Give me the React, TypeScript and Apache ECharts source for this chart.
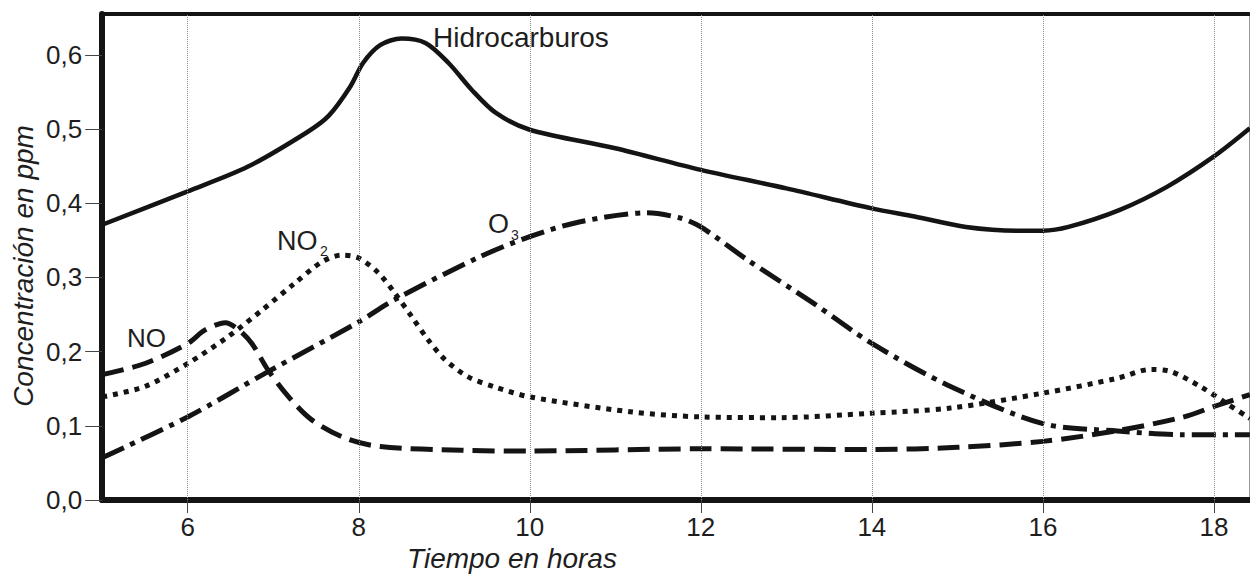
import React, { useEffect, useRef } from "react";
import * as echarts from "echarts";

// ---- data ----
const xTicks = [6, 8, 10, 12, 14, 16, 18];
const yTicks = [0, 0.1, 0.2, 0.3, 0.4, 0.5, 0.6];

const hidroX = [5.0, 6.0, 6.7, 7.4, 7.65, 7.9, 8.05, 8.25, 8.5, 8.78, 9.05, 9.32, 9.6, 10.0, 11.0, 12.0, 13.0, 14.0, 14.5, 15.1, 15.7, 16.0, 16.3, 16.9, 17.45, 18.0, 18.42];
const hidroY = [0.371, 0.416, 0.449, 0.496, 0.518, 0.557, 0.589, 0.613, 0.622, 0.616, 0.589, 0.553, 0.522, 0.499, 0.474, 0.445, 0.42, 0.393, 0.382, 0.368, 0.363, 0.363, 0.368, 0.391, 0.422, 0.463, 0.501];

const noX = [5.0, 5.5, 6.0, 6.2, 6.44, 6.6, 6.75, 6.94, 7.18, 7.45, 7.85, 8.25, 9.2, 10, 12, 14, 15, 16, 16.9, 17.65, 18.0, 18.42];
const noY = [0.169, 0.184, 0.211, 0.229, 0.239, 0.229, 0.211, 0.175, 0.139, 0.108, 0.083, 0.072, 0.067, 0.066, 0.069, 0.068, 0.071, 0.079, 0.094, 0.112, 0.126, 0.142];

const no2X = [5.0, 5.5, 6.0, 6.47, 6.87, 7.25, 7.57, 7.8, 8.0, 8.23, 8.42, 8.62, 8.81, 9.01, 9.28, 9.6, 10, 11.17, 12, 12.93, 14, 14.92, 16, 16.87, 17.26, 17.5, 17.84, 18.15, 18.42];
const no2Y = [0.139, 0.153, 0.184, 0.22, 0.256, 0.292, 0.321, 0.33, 0.326, 0.306, 0.279, 0.247, 0.216, 0.189, 0.166, 0.152, 0.139, 0.119, 0.112, 0.111, 0.117, 0.124, 0.144, 0.164, 0.176, 0.173, 0.153, 0.13, 0.11];

const o3X = [5.0, 6.0, 6.94, 8.0, 8.42, 9.42, 10, 10.59, 11.37, 11.76, 12, 12.54, 13.32, 14, 14.92, 16, 16.87, 17.64, 18.42];
const o3Y = [0.057, 0.112, 0.173, 0.24, 0.27, 0.328, 0.355, 0.375, 0.387, 0.38, 0.368, 0.324, 0.265, 0.211, 0.153, 0.103, 0.093, 0.088, 0.088];

const X_MIN = 5;
const X_MAX = 18.41;
const Y_MIN = 0;
const Y_MAX = 0.655;

const zip = (xs: number[], ys: number[]) => xs.map((x, i) => [x, ys[i]]);

const FONT = '"Liberation Sans", Arial, sans-serif';
const INK = "#141414";
const TEXT = "#1e1e1e";

export default function App() {
  const ref = useRef<HTMLDivElement>(null);

  useEffect(() => {
    if (!ref.current) return;
    const chart = echarts.init(ref.current, null, { renderer: "svg" });

    const lineSeries = (name: string, xs: number[], ys: number[], type: any, width: number) => ({
      name,
      type: "line",
      data: zip(xs, ys),
      smooth: 0.3,
      showSymbol: false,
      symbol: "none",
      z: 3,
      lineStyle: { color: INK, width, type, cap: "butt", join: "round" },
    });

    const option: any = {
      animation: false,
      backgroundColor: "#ffffff",
      grid: { left: 102.2, right: 1, top: 14, bottom: 74, containLabel: false },
      xAxis: [
        {
          type: "value",
          min: X_MIN,
          max: X_MAX,
          position: "bottom",
          axisLine: { show: true, onZero: false, lineStyle: { color: INK, width: 6 } },
          axisTick: { show: true, customValues: xTicks, length: 13, lineStyle: { color: "#444", width: 1 } },
          axisLabel: {
            show: true,
            customValues: xTicks,
            margin: 14,
            fontSize: 26,
            fontFamily: FONT,
            color: TEXT,
            formatter: (v: number) => String(v),
          },
          splitLine: { show: false },
        },
        {
          type: "value",
          min: X_MIN,
          max: X_MAX,
          position: "top",
          axisLine: { show: true, onZero: false, lineStyle: { color: INK, width: 4 } },
          axisTick: { show: false },
          axisLabel: { show: false },
          splitLine: { show: false },
        },
      ],
      yAxis: [
        {
          type: "value",
          min: Y_MIN,
          max: Y_MAX,
          position: "left",
          axisLine: { show: true, onZero: false, lineStyle: { color: INK, width: 6 } },
          axisTick: { show: true, customValues: yTicks, length: 17, lineStyle: { color: "#444", width: 1 } },
          axisLabel: {
            show: true,
            customValues: yTicks,
            margin: 20,
            fontSize: 26,
            fontFamily: FONT,
            color: TEXT,
            formatter: (v: number) => v.toFixed(1).replace(".", ","),
          },
          splitLine: { show: false },
        },
        {
          type: "value",
          min: Y_MIN,
          max: Y_MAX,
          position: "right",
          axisLine: { show: true, onZero: false, lineStyle: { color: "#999", width: 1 } },
          axisTick: { show: false },
          axisLabel: { show: false },
          splitLine: { show: false },
        },
      ],
      series: [
        {
          name: "grid",
          type: "line",
          data: [[X_MIN, -1]],
          showSymbol: false,
          symbol: "none",
          lineStyle: { width: 0, opacity: 0 },
          z: 1,
          silent: true,
          markLine: {
            silent: true,
            symbol: ["none", "none"],
            label: { show: false },
            lineStyle: { type: "dotted", color: "#8a8a8a", width: 1 },
            data: xTicks.map((v) => ({ xAxis: v })),
          },
        },
        lineSeries("Hidrocarburos", hidroX, hidroY, "solid", 4.5),
        lineSeries("NO", noX, noY, [22, 9], 5),
        lineSeries("NO2", no2X, no2Y, [5, 6], 5),
        lineSeries("O3", o3X, o3Y, [24, 7, 5, 7], 5),
      ],
      graphic: [
        {
          type: "text",
          x: 433,
          y: 37,
          style: { text: "Hidrocarburos", fontSize: 28, fontFamily: FONT, fill: TEXT, align: "left", verticalAlign: "middle" },
        },
        {
          type: "text",
          x: 127,
          y: 338,
          style: { text: "NO", fontSize: 26, fontFamily: FONT, fill: TEXT, align: "left", verticalAlign: "middle" },
        },
        {
          type: "text",
          x: 277,
          y: 241,
          style: { text: "NO", fontSize: 27, fontFamily: FONT, fill: TEXT, align: "left", verticalAlign: "middle" },
        },
        {
          type: "text",
          x: 320,
          y: 251,
          style: { text: "2", fontSize: 14, fontFamily: FONT, fill: TEXT, align: "left", verticalAlign: "middle" },
        },
        {
          type: "text",
          x: 488,
          y: 224,
          style: { text: "O", fontSize: 27, fontFamily: FONT, fill: TEXT, align: "left", verticalAlign: "middle" },
        },
        {
          type: "text",
          x: 511,
          y: 235,
          style: { text: "3", fontSize: 14, fontFamily: FONT, fill: TEXT, align: "left", verticalAlign: "middle" },
        },
        {
          type: "text",
          x: 512,
          y: 558,
          style: { text: "Tiempo en horas", fontSize: 28, fontStyle: "italic", fontFamily: FONT, fill: TEXT, align: "center", verticalAlign: "middle" },
        },
        {
          type: "text",
          x: 23,
          y: 266,
          rotation: Math.PI / 2,
          style: { text: "Concentración en ppm", fontSize: 28, fontStyle: "italic", fontFamily: FONT, fill: TEXT, align: "center", verticalAlign: "middle" },
        },
      ],
    };

    chart.setOption(option);
    return () => chart.dispose();
  }, []);

  return (
    <div
      ref={ref}
      style={{ position: "fixed", left: 0, top: 0, width: 1250, height: 574, background: "#fff" }}
    />
  );
}
